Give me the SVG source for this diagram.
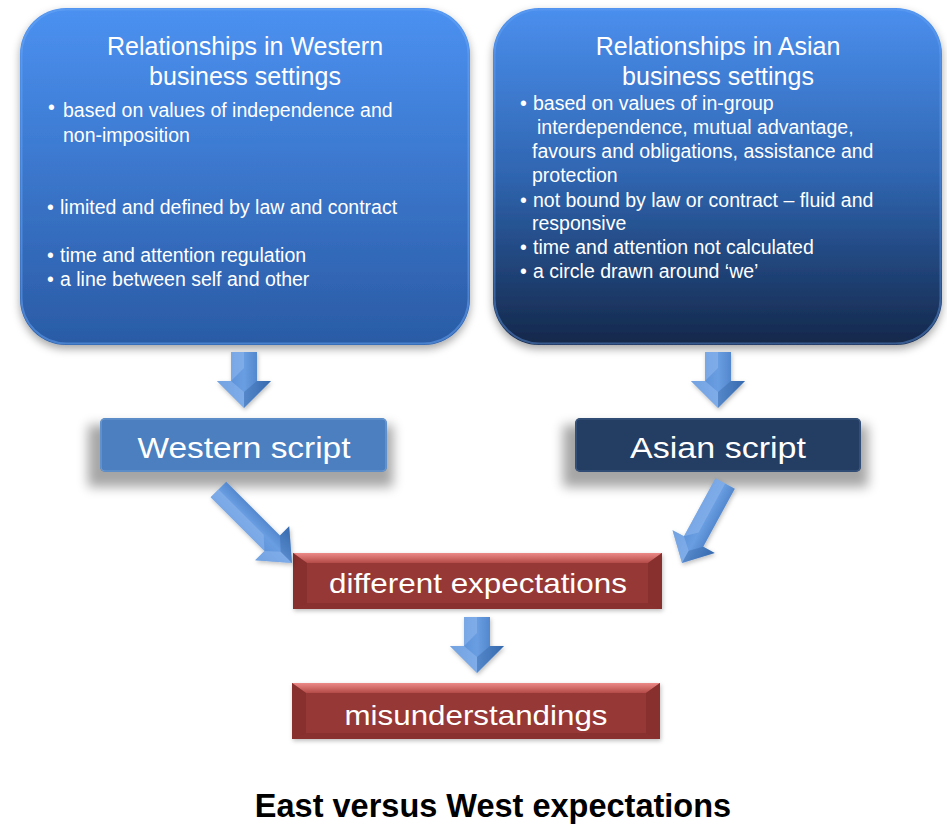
<svg xmlns="http://www.w3.org/2000/svg" width="947" height="825" viewBox="0 0 947 825">
<style>
.t{font-family:"Liberation Sans",Arial,sans-serif;fill:#ffffff}
.hd{font-size:25px;text-anchor:middle}
.bl{font-size:19.5px}
.lab{text-anchor:middle}
.cap{font-family:"Liberation Sans",Arial,sans-serif;font-weight:bold;font-size:32.5px;fill:#000;text-anchor:middle}
.arrow{fill:url(#arG)}
.facet{fill:#8fb8ee;opacity:0.55}
.facet2{fill:#2f5f9f;opacity:0.35}
</style>
<defs>
<linearGradient id="gW" x1="0" y1="0" x2="0" y2="1">
<stop offset="0" stop-color="#4b91f1"/>
<stop offset="1" stop-color="#2a5ba5"/>
</linearGradient>
<linearGradient id="gA" x1="0" y1="0" x2="0" y2="1">
<stop offset="0" stop-color="#4b8fee"/>
<stop offset="0.5" stop-color="#2f65b0"/>
<stop offset="1" stop-color="#14284a"/>
</linearGradient>
<linearGradient id="arG" x1="0" y1="0" x2="1" y2="0">
<stop offset="0" stop-color="#5289d2"/>
<stop offset="0.5" stop-color="#6a9ee2"/>
<stop offset="1" stop-color="#3a6fb8"/>
</linearGradient>
<linearGradient id="rTop" x1="0" y1="0" x2="0" y2="1">
<stop offset="0" stop-color="#ec8a87"/>
<stop offset="1" stop-color="#b44b48"/>
</linearGradient>
<filter id="sh" x="-10%" y="-10%" width="120%" height="130%">
<feDropShadow dx="0" dy="4" stdDeviation="4" flood-color="#000" flood-opacity="0.35"/>
</filter>
<filter id="blur" x="-20%" y="-50%" width="140%" height="200%">
<feGaussianBlur stdDeviation="6"/>
</filter>
<filter id="ash" x="-30%" y="-30%" width="160%" height="160%">
<feDropShadow dx="1" dy="2" stdDeviation="2" flood-color="#000" flood-opacity="0.25"/>
</filter>
<g id="dArrow">
<polygon class="arrow" points="-13,-56 13,-56 13,-27 27,-27 0,0 -27,-27 -13,-27"/>
<polygon class="facet" points="-13,-56 0,-56 0,-40 -13,-27"/>
<polygon class="facet" points="-27,-27 -13,-27 0,-16 0,0"/>
<polygon class="facet2" points="0,-16 13,-27 27,-27 0,0"/>
</g>
<g id="dgArrow">
<polygon class="arrow" points="-11,-104 11,-104 11,-28 24,-28 0,0 -24,-28 -11,-28"/>
<polygon class="facet" points="-11,-104 0,-104 0,-40 -11,-28"/>
<polygon class="facet" points="-24,-28 -11,-28 0,-16 0,0"/>
<polygon class="facet2" points="0,-16 11,-28 24,-28 0,0"/>
</g>
</defs>
<rect width="947" height="825" fill="#ffffff"/>

<g id="west-box">
<rect x="20" y="8" width="450" height="337" rx="46" ry="46" fill="url(#gW)" filter="url(#sh)"/>
<rect x="21.5" y="9.5" width="447" height="334" rx="45" ry="45" fill="none" stroke="#6aa6f5" stroke-opacity="0.5" stroke-width="2"/>
<text class="t hd" x="245" y="55">Relationships in Western</text>
<text class="t hd" x="245" y="85">business settings</text>
<text class="t bl" x="48" y="114">•</text>
<text class="t bl" x="63" y="117">based on values of independence and</text>
<text class="t bl" x="63" y="142">non-imposition</text>
<text class="t bl" x="47" y="214">•</text>
<text class="t bl" x="60" y="214">limited and defined by law and contract</text>
<text class="t bl" x="47" y="262">•</text>
<text class="t bl" x="60" y="262">time and attention regulation</text>
<text class="t bl" x="47" y="286">•</text>
<text class="t bl" x="60" y="286">a line between self and other</text>
</g>

<g id="asia-box">
<rect x="493" y="8" width="449" height="337" rx="46" ry="46" fill="url(#gA)" filter="url(#sh)"/>
<rect x="494.5" y="9.5" width="446" height="334" rx="45" ry="45" fill="none" stroke="#6aa6f5" stroke-opacity="0.4" stroke-width="2"/>
<text class="t hd" x="718" y="55">Relationships in Asian</text>
<text class="t hd" x="718" y="85">business settings</text>
<text class="t bl" x="520" y="110">•</text>
<text class="t bl" x="533" y="110">based on values of in-group</text>
<text class="t bl" x="537" y="134">interdependence, mutual advantage,</text>
<text class="t bl" x="532" y="158">favours and obligations, assistance and</text>
<text class="t bl" x="532" y="182">protection</text>
<text class="t bl" x="520" y="207">•</text>
<text class="t bl" x="533" y="207">not bound by law or contract – fluid and</text>
<text class="t bl" x="532" y="230">responsive</text>
<text class="t bl" x="520" y="254">•</text>
<text class="t bl" x="533" y="254">time and attention not calculated</text>
<text class="t bl" x="520" y="278">•</text>
<text class="t bl" x="533" y="278">a circle drawn around ‘we’</text>
</g>

<g id="west-script">
<rect x="88" y="425" width="305" height="62" fill="#000" opacity="0.35" filter="url(#blur)"/>
<rect x="100" y="418" width="287" height="54" rx="5" ry="5" fill="#4b7fc0"/>
<rect x="101" y="419" width="285" height="52" rx="4" ry="4" fill="none" stroke="#7fa9dc" stroke-width="1.2" stroke-opacity="0.7"/>
<text class="t lab" x="244" y="458" font-size="30" textLength="213" lengthAdjust="spacingAndGlyphs">Western script</text>
</g>

<g id="asia-script">
<rect x="563" y="425" width="305" height="62" fill="#000" opacity="0.35" filter="url(#blur)"/>
<rect x="575" y="418" width="286" height="54" rx="5" ry="5" fill="#233d63"/>
<rect x="576" y="419" width="284" height="52" rx="4" ry="4" fill="none" stroke="#4a6a96" stroke-width="1.2" stroke-opacity="0.7"/>
<text class="t lab" x="718" y="458" font-size="30" textLength="176" lengthAdjust="spacingAndGlyphs">Asian script</text>
</g>

<g id="expectations">
<rect x="293" y="553" width="369" height="56" fill="#963836" filter="url(#ash)"/>
<polygon points="293,553 662,553 648,563 307,563" fill="url(#rTop)"/>
<polygon points="293,553 307,563 307,603 293,609" fill="#7e2c2a" opacity="0.6"/>
<polygon points="662,553 648,563 648,603 662,609" fill="#7e2c2a" opacity="0.6"/>
<polygon points="293,609 307,603 648,603 662,609" fill="#7a2a28" opacity="0.5"/>
<text class="t lab" x="478" y="593" font-size="28" textLength="298" lengthAdjust="spacingAndGlyphs">different expectations</text>
</g>

<g id="misunderstandings">
<rect x="292" y="683" width="368" height="56" fill="#963836" filter="url(#ash)"/>
<polygon points="292,683 660,683 646,693 306,693" fill="url(#rTop)"/>
<polygon points="292,683 306,693 306,733 292,739" fill="#7e2c2a" opacity="0.6"/>
<polygon points="660,683 646,693 646,733 660,739" fill="#7e2c2a" opacity="0.6"/>
<polygon points="292,739 306,733 646,733 660,739" fill="#7a2a28" opacity="0.5"/>
<text class="t lab" x="476" y="725" font-size="28" textLength="263" lengthAdjust="spacingAndGlyphs">misunderstandings</text>
</g>

<g id="connectors" filter="url(#ash)">
<use href="#dArrow" transform="translate(244,408)"/>
<use href="#dArrow" transform="translate(718,408)"/>
<use href="#dgArrow" transform="translate(292,563) rotate(-45)"/>
<use href="#dgArrow" transform="translate(682,563) rotate(28.5) scale(1,0.87)"/>
<use href="#dArrow" transform="translate(477,673)"/>
</g>

<text class="cap" x="493" y="817">East versus West expectations</text>
</svg>
